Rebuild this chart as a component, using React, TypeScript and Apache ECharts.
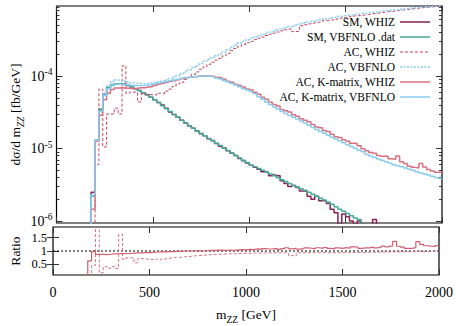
import React, { useEffect, useRef } from "react";
import * as echarts from "echarts";

// ---- binning (GeV) ----
const binLow = 180;
const binWidth = 20;

// ---- dσ/dm_ZZ values per bin, in units of 1e-6 fb/GeV (bins 180..2000 GeV) ----
const smWhiz = [
  2.5, 13, 34, 55, 68, 75, 78, 78, 77, 74,
  71, 67, 63, 59, 55, 51, 47, 43, 40, 36,
  32, 29.5, 27, 24.5, 22.5, 20.5, 19, 17.5, 16, 15,
  13.6, 12.9, 11.7, 10.8, 10.2, 9.3, 8.6, 8.0, 7.3, 6.8,
  6.3, 5.9, 5.5, 5.2, 4.8, 4.7, 4.2, 4.3, 4.2, 3.6,
  3.3, 3.0, 3.1, 2.9, 2.6, 2.6, 2.2, 2.0, 2.2, 1.9,
  1.9, 1.75, 1.45, 1.3, 0.9, 1.25, 1.15, 1.0, 0.9, 1.0,
  0, 0, 0, 1.05, 0, 0, 0, 0, 0, 0,
  0, 0, 0, 0, 0, 0, 0, 0, 0, 0,
  0,
];
const smVbfnlo = [
  2.2, 13, 35, 56, 70, 76, 78, 79, 77, 75,
  71, 67, 63, 59, 55, 51, 47, 43, 39, 35.5,
  32.5, 29.5, 27, 24.5, 22.5, 20.5, 19, 17.5, 16.2, 15,
  13.8, 12.8, 11.8, 11, 10.1, 9.4, 8.7, 8.0, 7.4, 6.9,
  6.4, 5.9, 5.6, 5.3, 5.0, 4.7, 4.45, 4.2, 3.95, 3.7,
  3.5, 3.3, 3.1, 2.95, 2.8, 2.65, 2.5, 2.35, 2.2, 2.07,
  1.95, 1.83, 1.7, 1.58, 1.46, 1.36, 1.27, 1.18, 1.1, 1.05,
  0, 0, 0, 0, 0, 0, 0, 0, 0, 0,
  0, 0, 0, 0, 0, 0, 0, 0, 0, 0,
  0,
];
const acWhiz = [
  0, 6, 66, 10.5, 30, 30, 36, 30, 138, 58,
  60, 60, 44, 57, 56, 55, 55, 58, 57, 62,
  66, 72, 78, 82, 90, 96, 105, 114, 124, 134,
  145, 155, 166, 174, 190, 204, 224, 240, 258, 272,
  288, 300, 318, 333, 345, 362, 378, 390, 405, 420,
  435, 445, 410, 415, 495, 510, 525, 535, 550, 560,
  580, 590, 595, 610, 625, 640, 645, 660, 675, 685,
  695, 705, 720, 730, 740, 755, 770, 780, 790, 805,
  815, 825, 840, 850, 860, 875, 885, 890, 905, 910,
  925,
];
const acVbfnlo = [
  2.2, 13, 32, 58, 73, 84, 88, 87, 85, 83,
  81, 80, 79, 79, 79, 80, 81, 83, 85, 88,
  92, 97, 102, 108, 115, 122, 130, 139, 149, 160,
  170, 180, 190, 200, 215, 230, 250, 270, 285, 300,
  315, 330, 345, 360, 375, 390, 405, 420, 435, 450,
  465, 480, 495, 510, 530, 545, 560, 570, 585, 600,
  615, 625, 640, 650, 665, 680, 690, 700, 712, 725,
  735, 745, 755, 765, 775, 790, 800, 810, 820, 830,
  840, 850, 860, 870, 880, 890, 900, 905, 915, 920,
  930,
];
const kWhiz = [
  1.45, 12.7, 28.7, 47, 58, 65, 68.5, 69, 68.5, 68,
  67.5, 68, 69, 69, 70.5, 71.5, 74, 77, 79.5, 81.5,
  84, 86, 89, 92, 95, 97, 98, 99.5, 101, 100,
  100, 99, 96, 94, 90, 85, 82, 77, 74, 70.5,
  66.5, 64.5, 60, 56, 51, 48, 43.5, 40.5, 38.5, 34.5,
  33.2, 32, 29.2, 28, 25.7, 24.5, 23.5, 21.5, 19.8, 19.3,
  17.8, 17.2, 15.7, 14.6, 14.2, 13.2, 12.7, 11.8, 11.7, 10.9,
  9.9, 9.3, 8.85, 8.6, 8.05, 7.85, 7.8, 7.25, 7.1, 7.9,
  6.6, 6.2, 5.7, 5.5, 5.4, 6.2, 5.55, 5.15, 4.9, 4.7,
  4.7,
];
const kVbfnlo = [
  2.3, 13, 33, 54, 67, 74, 77, 77, 76, 75,
  74, 74, 74, 74, 75, 76, 78, 80, 82, 84,
  86, 88, 90, 93, 95, 97, 98, 99.5, 100, 100,
  99, 97, 94, 91, 87, 83, 79, 75, 71, 67,
  64, 61, 57, 52, 48, 44, 40.5, 37.5, 35, 32.5,
  30.5, 28.5, 27, 25.5, 24, 22.5, 21, 19.5, 18.3, 17.2,
  16.2, 15.2, 14.3, 13.5, 12.7, 12.0, 11.3, 10.7, 10.1, 9.5,
  9.0, 8.3, 7.9, 7.5, 7.2, 6.9, 6.6, 6.3, 6.0, 5.8,
  5.6, 5.4, 5.2, 5.0, 4.8, 4.6, 4.45, 4.3, 4.15, 4.0,
  3.9,
];

// ---- axis ticks ----
const xTicks = [0, 500, 1000, 1500, 2000];
const yMajor = [1e-6, 1e-5, 1e-4];
const ratioTicks = [0.5, 1, 1.5];
const unit = 1e-6;

const FONT = "'Liberation Serif', 'Times New Roman', serif";

const yMinor: number[] = [];
[1e-6, 1e-5, 1e-4].forEach((d) => {
  for (let k = 2; k <= 9; k++) yMinor.push(k * d);
});

function histPoints(vals: number[], scale: number, floor: number): [number, number][] {
  const pts: [number, number][] = [[binLow, floor]];
  vals.forEach((v, i) => {
    pts.push([binLow + i * binWidth, v > 0 ? v * scale : floor]);
  });
  const last = vals[vals.length - 1];
  pts.push([binLow + vals.length * binWidth, last > 0 ? last * scale : floor]);
  return pts;
}
function ratio(a: number[], b: number[]): number[] {
  return a.map((v, i) => (b[i] > 0 && v > 0 ? v / b[i] : 0));
}

const seriesDefs = [
  { name: "SM, WHIZ", data: smWhiz, color: "#882255", width: 1.5, dash: "solid" as any },
  { name: "SM, VBFNLO .dat", data: smVbfnlo, color: "#44AA99", width: 1.5, dash: "solid" as any },
  { name: "AC, WHIZ", data: acWhiz, color: "#C8435A", width: 1, dash: [3, 2] as any },
  { name: "AC, VBFNLO", data: acVbfnlo, color: "#88CCEE", width: 1.6, dash: [2, 1.5] as any },
  { name: "AC, K-matrix, WHIZ", data: kWhiz, color: "#D97080", width: 1.5, dash: "solid" as any },
  { name: "AC, K-matrix, VBFNLO", data: kVbfnlo, color: "#88CCEE", width: 1.5, dash: "solid" as any },
];

function App() {
  const ref = useRef<HTMLDivElement>(null);
  useEffect(() => {
    if (!ref.current) return;
    const chart = echarts.init(ref.current, null, { renderer: "svg" });
    const tickStyle = { color: "#333", width: 1 };
    const baseX = {
      type: "value" as const,
      min: 0,
      max: 2000,
      interval: 500,
      axisLine: { show: false },
      splitLine: { show: false },
      axisTick: { inside: true, length: 6, lineStyle: tickStyle },
      axisLabel: { show: false },
    };
    const logY = {
      type: "log" as const,
      min: 9.4e-7,
      max: 9.25e-4,
      axisLine: { show: false },
      splitLine: { show: false },
      axisLabel: { show: false },
    };
    const ratioY = {
      type: "value" as const,
      min: 0.1,
      max: 1.9,
      axisLine: { show: false },
      splitLine: { show: false },
      axisTick: { inside: true, length: 6, lineStyle: tickStyle, customValues: ratioTicks },
      axisLabel: { show: false },
    };
    const mainSeries = seriesDefs.map((s) => ({
      type: "line",
      name: s.name,
      xAxisIndex: 0,
      yAxisIndex: 0,
      step: "end",
      symbol: "none",
      clip: true,
      silent: true,
      data: histPoints(s.data, unit, 1e-9),
      lineStyle: { color: s.color, width: s.width, type: s.dash },
    }));
    const ratioK = ratio(kWhiz, kVbfnlo);
    const ratioAC = ratio(acWhiz, acVbfnlo);
    const legendGraphics: any[] = [];
    seriesDefs.forEach((s, i) => {
      const y = 22 + i * 15;
      legendGraphics.push({
        type: "text",
        x: 395,
        y,
        style: {
          text: s.name,
          fill: "#000",
          font: `11.5px ${FONT}`,
          textAlign: "right",
          textVerticalAlign: "middle",
        },
      });
      legendGraphics.push({
        type: "line",
        shape: { x1: 400, y1: y, x2: 430, y2: y },
        style: { stroke: s.color, lineWidth: s.width, lineDash: Array.isArray(s.dash) ? s.dash : null },
      });
    });

    const option: any = {
      animation: false,
      backgroundColor: "#fff",
      textStyle: { fontFamily: FONT },
      grid: [
        { left: 53, right: 14, top: 6, height: 217, show: true, borderColor: "#000", borderWidth: 1.2, backgroundColor: "transparent" },
        { left: 53, right: 14, top: 227, height: 54, show: true, borderColor: "#000", borderWidth: 1.2, backgroundColor: "transparent" },
      ],
      xAxis: [
        { ...baseX, gridIndex: 0, position: "bottom" },
        { ...baseX, gridIndex: 0, position: "top" },
        {
          ...baseX,
          gridIndex: 1,
          position: "bottom",
          axisLabel: {
            show: true,
            margin: 10,
            fontSize: 14,
            fontFamily: FONT,
            color: "#000",
            customValues: xTicks,
            hideOverlap: false,
            formatter: (v: number) => String(v),
          },
          name: "m{sub|ZZ} [GeV]",
          nameLocation: "middle",
          nameGap: 29,
          nameMoveOverlap: false,
          nameTextStyle: {
            fontSize: 13.5,
            fontFamily: FONT,
            color: "#000",
            rich: { sub: { fontSize: 9.5, fontFamily: FONT, padding: [11, 0, 0, 0], color: "#000" } },
          },
        },
        { ...baseX, gridIndex: 1, position: "top" },
      ],
      yAxis: [
        {
          ...logY,
          gridIndex: 0,
          position: "left",
          axisTick: { inside: true, length: 6, lineStyle: tickStyle, customValues: yMajor },
          axisLabel: {
            show: true,
            customValues: yMajor,
            margin: 4,
            fontSize: 14,
            fontFamily: FONT,
            color: "#000",
            hideOverlap: false,
            formatter: (v: number) => "10{sup|" + Math.round(Math.log10(v)) + "}",
            rich: { sup: { fontSize: 9.5, fontFamily: FONT, color: "#000", padding: [0, 0, 8, 0] } },
          },
          name: "dσ/d m{sub|ZZ} [fb/GeV]",
          nameLocation: "middle",
          nameRotate: 90,
          nameGap: 31,
          nameMoveOverlap: false,
          nameTextStyle: {
            fontSize: 13.5,
            fontFamily: FONT,
            color: "#000",
            rich: { sub: { fontSize: 9.5, fontFamily: FONT, fontStyle: "italic", padding: [11, 0, 0, 0], color: "#000" } },
          },
        },
        { ...logY, gridIndex: 0, position: "left", axisTick: { inside: true, length: 3, lineStyle: tickStyle, customValues: yMinor } },
        { ...logY, gridIndex: 0, position: "right", axisTick: { inside: true, length: 6, lineStyle: tickStyle, customValues: yMajor } },
        { ...logY, gridIndex: 0, position: "right", axisTick: { inside: true, length: 3, lineStyle: tickStyle, customValues: yMinor } },
        {
          ...ratioY,
          gridIndex: 1,
          position: "left",
          axisLabel: {
            show: true,
            customValues: ratioTicks,
            margin: 6,
            fontSize: 12.5,
            lineHeight: 12,
            fontFamily: FONT,
            color: "#000",
            hideOverlap: false,
            showMinLabel: true,
            showMaxLabel: true,
          },
          name: "Ratio",
          nameLocation: "middle",
          nameRotate: 90,
          nameGap: 31,
          nameMoveOverlap: false,
          nameTextStyle: { fontSize: 13.5, fontFamily: FONT, color: "#000" },
        },
        { ...ratioY, gridIndex: 1, position: "right" },
      ],
      series: [
        ...mainSeries,
        {
          type: "line",
          name: "one",
          xAxisIndex: 2,
          yAxisIndex: 4,
          symbol: "none",
          silent: true,
          data: [[0, 1], [2000, 1]],
          lineStyle: { color: "#000", width: 1, type: [2, 2] },
        },
        {
          type: "line",
          name: "ratio AC",
          xAxisIndex: 2,
          yAxisIndex: 4,
          step: "end",
          symbol: "none",
          clip: true,
          silent: true,
          data: histPoints(ratioAC, 1, -1),
          lineStyle: { color: "#D97080", width: 1, type: [3, 2] },
        },
        {
          type: "line",
          name: "ratio K",
          xAxisIndex: 2,
          yAxisIndex: 4,
          step: "end",
          symbol: "none",
          clip: true,
          silent: true,
          data: histPoints(ratioK, 1, -1),
          lineStyle: { color: "#D06070", width: 1.2 },
        },
      ],
      graphic: legendGraphics,
    };
    chart.setOption(option);
    return () => chart.dispose();
  }, []);
  return (
    <div
      ref={ref}
      style={{ position: "fixed", left: 0, top: 0, width: 456, height: 326, background: "#fff" }}
    />
  );
}

export default App;
